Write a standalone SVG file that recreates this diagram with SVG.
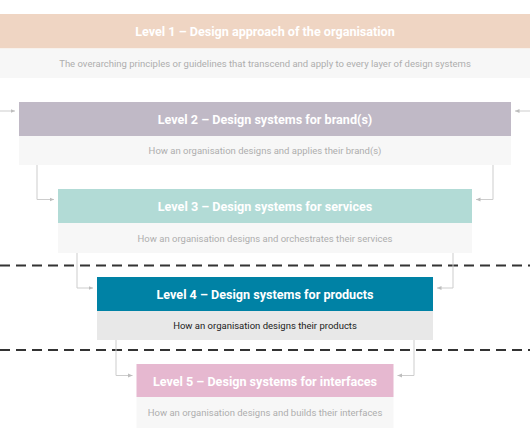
<svg xmlns="http://www.w3.org/2000/svg" width="530" height="442" viewBox="0 0 530 442">
  <style>
    .hd { font-family: Roboto, "Liberation Sans", sans-serif; font-size: 12.6px; font-weight: 700; fill: #ffffff; text-anchor: middle; }
    .sb { font-family: Roboto, "Liberation Sans", sans-serif; font-size: 9.5px; fill: #aeaeae; text-anchor: middle; }
    .sbd { fill: #222222; }
    .subbox { fill: #f7f7f7; }
    .conn { fill: none; stroke: #cdcdcd; stroke-width: 1; marker-end: url(#arr); }
    .dash { stroke: #333333; stroke-width: 2; stroke-dasharray: 10 6; fill: none; }
  </style>
  <defs>
    <marker id="arr" markerUnits="userSpaceOnUse" markerWidth="5" markerHeight="5" refX="4.5" refY="2.5" orient="auto">
      <path d="M0,0.5 L4.5,2.5 L0,4.5 z" fill="#bdbdbd"/>
    </marker>
  </defs>
  <rect width="530" height="442" fill="#ffffff"/>

  <g id="dividers">
    <line class="dash" x1="0" y1="265.5" x2="530" y2="265.5"/>
    <line class="dash" x1="0" y1="350" x2="530" y2="350"/>
  </g>

  <g id="level1">
    <rect x="0" y="14" width="530" height="34.5" fill="#efd5c3"/>
    <rect class="subbox" x="0" y="48.5" width="530" height="29.5"/>
    <text class="hd" x="265" y="36">Level 1 – Design approach of the organisation</text>
    <text class="sb" x="265" y="66.5">The overarching principles or guidelines that transcend and apply to every layer of design systems</text>
  </g>

  <g id="level2">
    <rect x="19" y="102" width="492" height="34" fill="#c0b9c6"/>
    <rect class="subbox" x="19" y="136" width="492" height="29"/>
    <text class="hd" x="265" y="124">Level 2 – Design systems for brand(s)</text>
    <text class="sb" x="265" y="154">How an organisation designs and applies their brand(s)</text>
  </g>

  <g id="level3">
    <rect x="58" y="189" width="414" height="34" fill="#b2dbd6"/>
    <rect class="subbox" x="58" y="223" width="414" height="30"/>
    <text class="hd" x="265" y="211">Level 3 – Design systems for services</text>
    <text class="sb" x="265" y="241.5">How an organisation designs and orchestrates their services</text>
  </g>

  <g id="level4">
    <rect x="97" y="277" width="336" height="34" fill="#0082a5"/>
    <rect x="97" y="311" width="336" height="29" fill="#e8e8e8"/>
    <text class="hd" x="265" y="299">Level 4 – Design systems for products</text>
    <text class="sb sbd" x="265" y="328.5">How an organisation designs their products</text>
  </g>

  <g id="level5">
    <rect x="136.5" y="364" width="257" height="33" fill="#e6b8d0"/>
    <rect class="subbox" x="136.5" y="397" width="257" height="31"/>
    <text class="hd" x="265" y="385.5">Level 5 – Design systems for interfaces</text>
    <text class="sb" x="265" y="415.5">How an organisation designs and builds their interfaces</text>
  </g>

  <g id="connectors">
    <path class="conn" d="M0,111 H15"/>
    <path class="conn" d="M530,111 H515"/>
    <path class="conn" d="M37,165 V199.5 H54"/>
    <path class="conn" d="M493,165 V199.5 H476"/>
    <path class="conn" d="M77,253 V288 H93"/>
    <path class="conn" d="M453,253 V288 H437"/>
    <path class="conn" d="M116,340 V375.5 H132.5"/>
    <path class="conn" d="M414,340 V375.5 H397.5"/>
  </g>
</svg>
